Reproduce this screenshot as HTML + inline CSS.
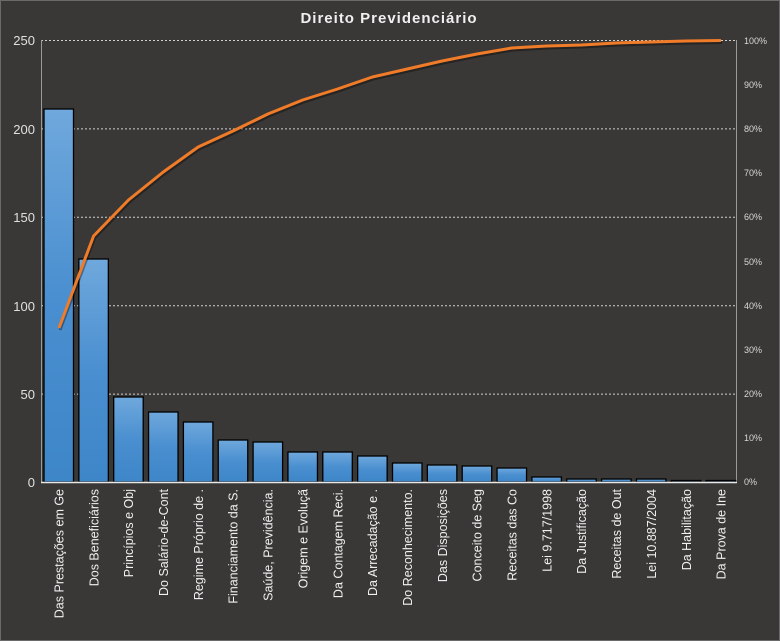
<!DOCTYPE html>
<html><head><meta charset="utf-8"><style>
html,body{margin:0;padding:0;background:#393837;}
svg{display:block;font-family:"Liberation Sans","DejaVu Sans",sans-serif;}
</style></head><body>
<svg width="780" height="641" viewBox="0 0 780 641" xmlns="http://www.w3.org/2000/svg">
<defs>
<linearGradient id="g" x1="0" y1="0" x2="0" y2="1">
<stop offset="0" stop-color="#6fa8dc"/><stop offset="0.5" stop-color="#4a8fd0"/><stop offset="1" stop-color="#3d86c8"/>
</linearGradient>
</defs>
<rect x="0" y="0" width="780" height="641" fill="#393837"/>
<rect x="0.5" y="0.5" width="779" height="640" fill="none" stroke="#6a6a6a"/>
<text x="389" y="23" text-anchor="middle" fill="#f0f0f0" font-size="15" font-weight="bold" letter-spacing="1">Direito  Previdenciário</text>
<g stroke="#cfcfcf" stroke-width="1" stroke-dasharray="2,2">
<line x1="41" y1="40.5" x2="736" y2="40.5"/>
<line x1="41" y1="128.9" x2="736" y2="128.9"/>
<line x1="41" y1="217.3" x2="736" y2="217.3"/>
<line x1="41" y1="305.7" x2="736" y2="305.7"/>
<line x1="41" y1="394.1" x2="736" y2="394.1"/>
</g>
<line x1="41.5" y1="40" x2="41.5" y2="482" stroke="#9a9a9a"/>
<line x1="736.5" y1="40" x2="736.5" y2="482" stroke="#9a9a9a"/>
<g fill="#e0e0e0" font-size="13" text-anchor="end">
<text x="35" y="45">250</text><text x="35" y="134">200</text><text x="35" y="222">150</text>
<text x="35" y="311">100</text><text x="35" y="399">50</text><text x="35" y="487">0</text>
</g>
<g fill="#d8d8d8" font-size="9">
<text x="744" y="44">100%</text><text x="744" y="88">90%</text><text x="744" y="132">80%</text>
<text x="744" y="176">70%</text><text x="744" y="220">60%</text><text x="744" y="265">50%</text>
<text x="744" y="309">40%</text><text x="744" y="353">30%</text><text x="744" y="397">20%</text>
<text x="744" y="441">10%</text><text x="744" y="485">0%</text>
</g>
<g fill="url(#g)" stroke="#000" stroke-width="1.3">
<rect x="44" y="109" width="29.5" height="373"/>
<rect x="78.85" y="259" width="29.5" height="223"/>
<rect x="113.7" y="397" width="29.5" height="85"/>
<rect x="148.55" y="412" width="29.5" height="70"/>
<rect x="183.4" y="422" width="29.5" height="60"/>
<rect x="218.25" y="440" width="29.5" height="42"/>
<rect x="253.1" y="442" width="29.5" height="40"/>
<rect x="287.95" y="452" width="29.5" height="30"/>
<rect x="322.8" y="452" width="29.5" height="30"/>
<rect x="357.65" y="456" width="29.5" height="26"/>
<rect x="392.5" y="463" width="29.5" height="19"/>
<rect x="427.35" y="465" width="29.5" height="17"/>
<rect x="462.2" y="466" width="29.5" height="16"/>
<rect x="497.05" y="468" width="29.5" height="14"/>
<rect x="531.9" y="477" width="29.5" height="5"/>
<rect x="566.75" y="479" width="29.5" height="3"/>
<rect x="601.6" y="479" width="29.5" height="3"/>
<rect x="636.45" y="479" width="29.5" height="3"/>
<rect x="671.3" y="480.5" width="29.5" height="1.5"/>
<rect x="706.15" y="480.5" width="29.5" height="1.5"/>
</g>
<line x1="41" y1="482.5" x2="737" y2="482.5" stroke="#e8e8e8" stroke-width="1.5"/>
<polyline fill="none" stroke="#000" stroke-opacity="0.35" stroke-width="3" stroke-linejoin="round" transform="translate(1,2)"
points="59,328 93.6,236 128.5,200 163.3,172 198.2,147 233,131 267.9,114 302.7,100 337.6,89 372.4,77 407.3,69 442.1,61 477,54 511.8,48 546.7,46 581.5,45 616.4,43 651.2,42 686.1,41 721,40.5"/>
<polyline fill="none" stroke="#f07b28" stroke-width="3" stroke-linejoin="round"
points="59,328 93.6,236 128.5,200 163.3,172 198.2,147 233,131 267.9,114 302.7,100 337.6,89 372.4,77 407.3,69 442.1,61 477,54 511.8,48 546.7,46 581.5,45 616.4,43 651.2,42 686.1,41 721,40.5"/>
<g fill="#f0f0f0" font-size="12.5" text-anchor="end">
<text transform="translate(63.5,489) rotate(-90)">Das Prestações em Ge</text>
<text transform="translate(98.3,489) rotate(-90)">Dos Beneficiários</text>
<text transform="translate(133.2,489) rotate(-90)">Princípios e Obj</text>
<text transform="translate(168,489) rotate(-90)">Do Salário-de-Cont</text>
<text transform="translate(202.9,489) rotate(-90)">Regime Próprio de .</text>
<text transform="translate(237.7,489) rotate(-90)">Financiamento da S.</text>
<text transform="translate(272.6,489) rotate(-90)">Saúde, Previdência.</text>
<text transform="translate(307.4,489) rotate(-90)">Origem e Evoluçã</text>
<text transform="translate(342.3,489) rotate(-90)">Da Contagem Reci.</text>
<text transform="translate(377.1,489) rotate(-90)">Da Arrecadação e .</text>
<text transform="translate(412,489) rotate(-90)">Do Reconhecimento.</text>
<text transform="translate(446.8,489) rotate(-90)">Das Disposições</text>
<text transform="translate(481.7,489) rotate(-90)">Conceito de Seg</text>
<text transform="translate(516.5,489) rotate(-90)">Receitas das Co</text>
<text transform="translate(551.4,489) rotate(-90)">Lei 9.717/1998</text>
<text transform="translate(586.2,489) rotate(-90)">Da Justificação</text>
<text transform="translate(621.1,489) rotate(-90)">Receitas de Out</text>
<text transform="translate(655.9,489) rotate(-90)">Lei 10.887/2004</text>
<text transform="translate(690.8,489) rotate(-90)">Da Habilitação</text>
<text transform="translate(725.6,489) rotate(-90)">Da Prova de Ine</text>
</g>
</svg>
</body></html>
